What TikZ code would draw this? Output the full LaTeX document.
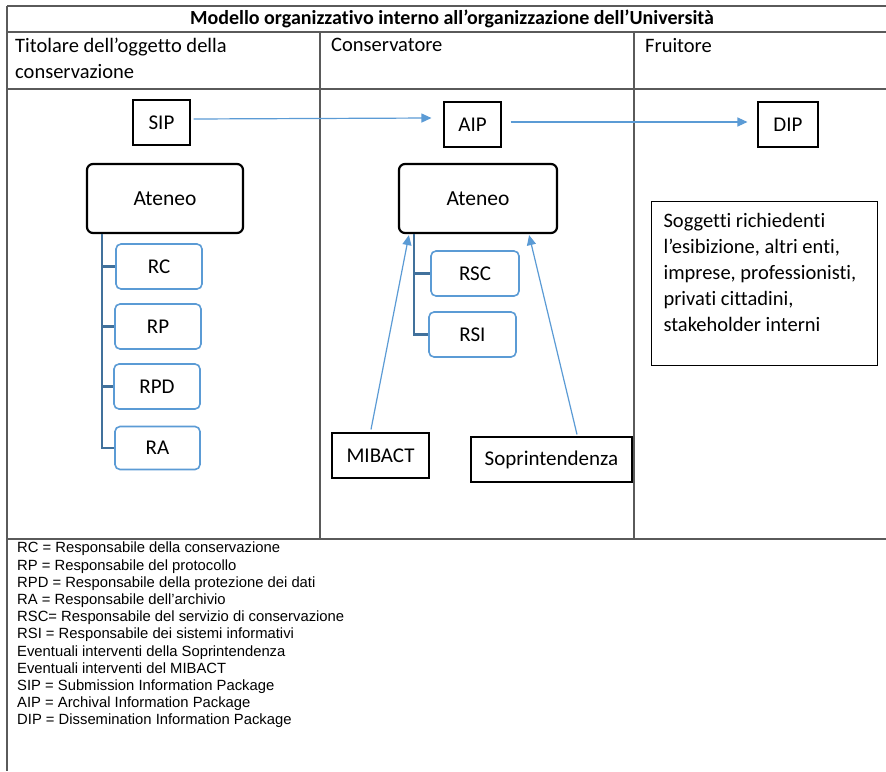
\documentclass[tikz,border=0pt]{standalone}
\usepackage{fontspec}
\setmainfont{Carlito}[Ligatures=NoCommon]
\newfontfamily\legendfont{Liberation Sans}
\usetikzlibrary{arrows.meta}
\definecolor{accentblue}{HTML}{5B9BD5}
\definecolor{treeblue}{HTML}{41719C}
\definecolor{gridgray}{HTML}{5A5A5A}
\tikzset{
  pkgbox/.style={draw=black, line width=1.1pt, inner sep=0pt, minimum height=45pt, font=\fontsize{21}{25}\selectfont},
  unitbox/.style={draw=black, line width=2.2pt, rounded corners=6pt, inner sep=0pt, minimum height=69pt, font=\fontsize{21.5}{25}\selectfont},
  rolebox/.style={draw=accentblue, line width=1.6pt, rounded corners=5pt, inner sep=0pt, minimum height=45pt, font=\fontsize{21}{25}\selectfont},
  flow/.style={draw=accentblue, line width=1.2pt, -{Triangle[length=10pt,width=9pt]}},
  tree/.style={draw=treeblue, line width=2.2pt},
  grid/.style={draw=gridgray, line width=1.6pt}
}
\begin{document}
\begin{tikzpicture}[x=1pt,y=-1pt]
    \useasboundingbox[fill=white] (0,0) rectangle (886,771);

    \draw[grid] (7,6) -- (886,6);
    \draw[grid] (7,32) -- (886,32);
    \draw[grid] (7,89) -- (886,89);
    \draw[grid] (7,539) -- (886,539);
    \draw[grid] (7,6) -- (7,771);
    \draw[grid] (320,32) -- (320,539);
    \draw[grid] (634,32) -- (634,539);

    \node[font=\fontsize{20}{24}\selectfont\bfseries] (title) at (452,19) {Modello organizzativo interno all’organizzazione dell’Università};
    \node[anchor=north west, align=left, inner sep=0pt, font=\fontsize{20.5}{26}\selectfont] (titolare) at (15,38) {Titolare dell’oggetto della\\conservazione};
    \node[anchor=north west, inner sep=0pt, font=\fontsize{20.5}{26}\selectfont] (conservatore) at (331,38) {Conservatore};
    \node[anchor=north west, inner sep=0pt, font=\fontsize{20.5}{26}\selectfont] (fruitore) at (645,38) {Fruitore};

    \node[pkgbox, minimum width=57pt] (sip) at (161.5,122.5) {SIP};
    \node[pkgbox, minimum width=57pt] (aip) at (472.5,124.5) {AIP};
    \node[pkgbox, minimum width=60pt] (dip) at (788,124.5) {DIP};

    \draw[flow] ([xshift=3pt,yshift=3.5pt]sip.east) -- ([xshift=-12pt,yshift=6.5pt]aip.west);
    \draw[flow] ([xshift=9pt,yshift=2.5pt]aip.east) -- ([xshift=-10pt,yshift=2.5pt]dip.west);

    \node[unitbox, minimum width=156pt] (ateneoL) at (165,198.5) {Ateneo};
    \node[rolebox, minimum width=86pt] (rc) at (159,266.5) {RC};
    \node[rolebox, minimum width=86pt] (rp) at (158,326.5) {RP};
    \node[rolebox, minimum width=86pt] (rpd) at (157,386.5) {RPD};
    \node[rolebox, minimum width=85pt, minimum height=43pt] (ra) at (157.5,448) {RA};
    \foreach \role in {rc,rp,rpd,ra}
        \draw[tree] ([xshift=16pt]ateneoL.south west) |- (\role.west);

    \node[unitbox, minimum width=158pt] (ateneoC) at (478,198.5) {Ateneo};
    \node[rolebox, minimum width=88pt] (rsc) at (475,273.5) {RSC};
    \node[rolebox, minimum width=87pt] (rsi) at (472.5,334.5) {RSI};
    \foreach \role in {rsc,rsi}
        \draw[tree] ([xshift=16pt]ateneoC.south west) |- (\role.west);

    \node[pkgbox, minimum width=97pt] (mibact) at (380.5,455.5) {MIBACT};
    \node[pkgbox, minimum width=161pt] (soprint) at (551.5,459.5) {Soprintendenza};
    \draw[flow] ([xshift=-9.5pt,yshift=3pt]mibact.north) -- ([xshift=11pt,yshift=-1pt]ateneoC.south west);
    \draw[flow] ([xshift=25.5pt,yshift=2pt]soprint.north) -- ([xshift=-29pt,yshift=-1pt]ateneoC.south east);

    \node[draw=black, line width=1.1pt, anchor=north west, inner sep=12pt, font=\fontsize{20.5}{26}\selectfont] (soggetti) at (651,201)
        {\parbox[t][140pt][t]{202pt}{Soggetti richiedenti\\l’esibizione, altri enti,\\imprese, professionisti,\\privati cittadini,\\stakeholder interni}};

    \node[anchor=north west, align=left, inner sep=0pt, font=\legendfont\fontsize{14.8}{17.2}\selectfont] (legenda) at (17,542)
        {RC = Responsabile della conservazione\\
         RP = Responsabile del protocollo\\
         RPD = Responsabile della protezione dei dati\\
         RA = Responsabile dell’archivio\\
         RSC= Responsabile del servizio di conservazione\\
         RSI = Responsabile dei sistemi informativi\\
         Eventuali interventi della Soprintendenza\\
         Eventuali interventi del MIBACT\\
         SIP = Submission Information Package\\
         AIP = Archival Information Package\\
         DIP = Dissemination Information Package};
\end{tikzpicture}
\end{document}
